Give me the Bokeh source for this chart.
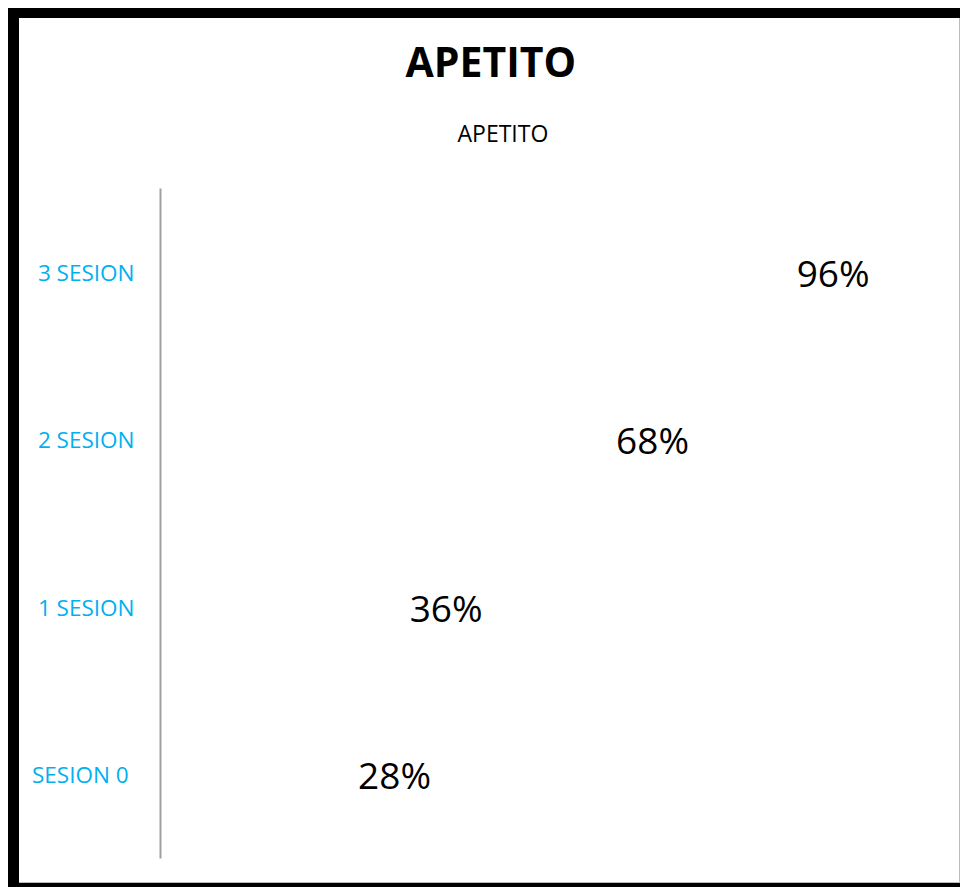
from bokeh.plotting import figure
from bokeh.models import Title, ColumnDataSource, InlineStyleSheet
from bokeh.core.properties import value
from bokeh.embed import file_html
from bokeh.resources import INLINE

# ---- data ----
categories = ["SESION  0", "1 SESION", "2 SESION", "3 SESION"]
values = [28, 36, 68, 96]
labels = ["28%", "36%", "68%", "96%"]
title_text = "APETITO"
subtitle_text = "APETITO"

FONT = "Open Sans"

src = ColumnDataSource(dict(cat=categories, val=values, lab=labels))

p = figure(
    width=960, height=887,
    y_range=categories, x_range=(0, 120),
    output_backend="svg", toolbar_location=None,
    x_axis_location=None, title=None,
    min_border_left=160, min_border_right=26,
    min_border_bottom=29, min_border_top=188,
)
p.outline_line_color = None
p.background_fill_color = "white"
p.border_fill_alpha = 0.0
p.xgrid.visible = False
p.ygrid.visible = False

ax = p.yaxis[0]
ax.axis_line_color = "#A0A0A0"
ax.axis_line_width = 2
ax.major_tick_line_color = None
ax.minor_tick_line_color = None
ax.major_label_text_color = "#00B0F0"
ax.major_label_text_font = FONT
ax.major_label_text_font_size = "22.5px"
ax.major_label_standoff = 20

# data labels (bars are invisible in the original)
p.text(x="val", y="cat", text="lab", source=src,
       x_offset=17, y_offset=0,
       text_align="left", text_baseline="middle",
       text_font=value(FONT), text_font_size="37px", text_color="black")

# titles
sub = Title(text=subtitle_text, align="left", text_font=FONT,
            text_font_size="23px", text_font_style="normal",
            text_color="black", standoff=80, offset=297)
p.add_layout(sub, "above")
main = Title(text=title_text, align="left", text_font=FONT,
             text_font_size="41px", text_font_style="bold",
             text_color="black", standoff=-29, offset=245)
p.add_layout(main, "above")

# thick black frame of the chart box (cropped at right/bottom), drawn as inset shadows
p.styles = {
    "box-shadow": ", ".join([
        "inset 8px 0 0 0 #ffffff",
        "inset 0 8px 0 0 #ffffff",
        "inset 19px 0 0 0 #000000",
        "inset 0 18px 0 0 #000000",
        "inset 0 -4px 0 0 #000000",
        "inset 0 -5px 0 0 #BBBBBB",
        "inset -1px 0 0 0 #BBBBBB",
    ])
}
p.stylesheets = [InlineStyleSheet(css="svg text { white-space: pre; }")]

open("out.html", "w").write(file_html(p, INLINE))
